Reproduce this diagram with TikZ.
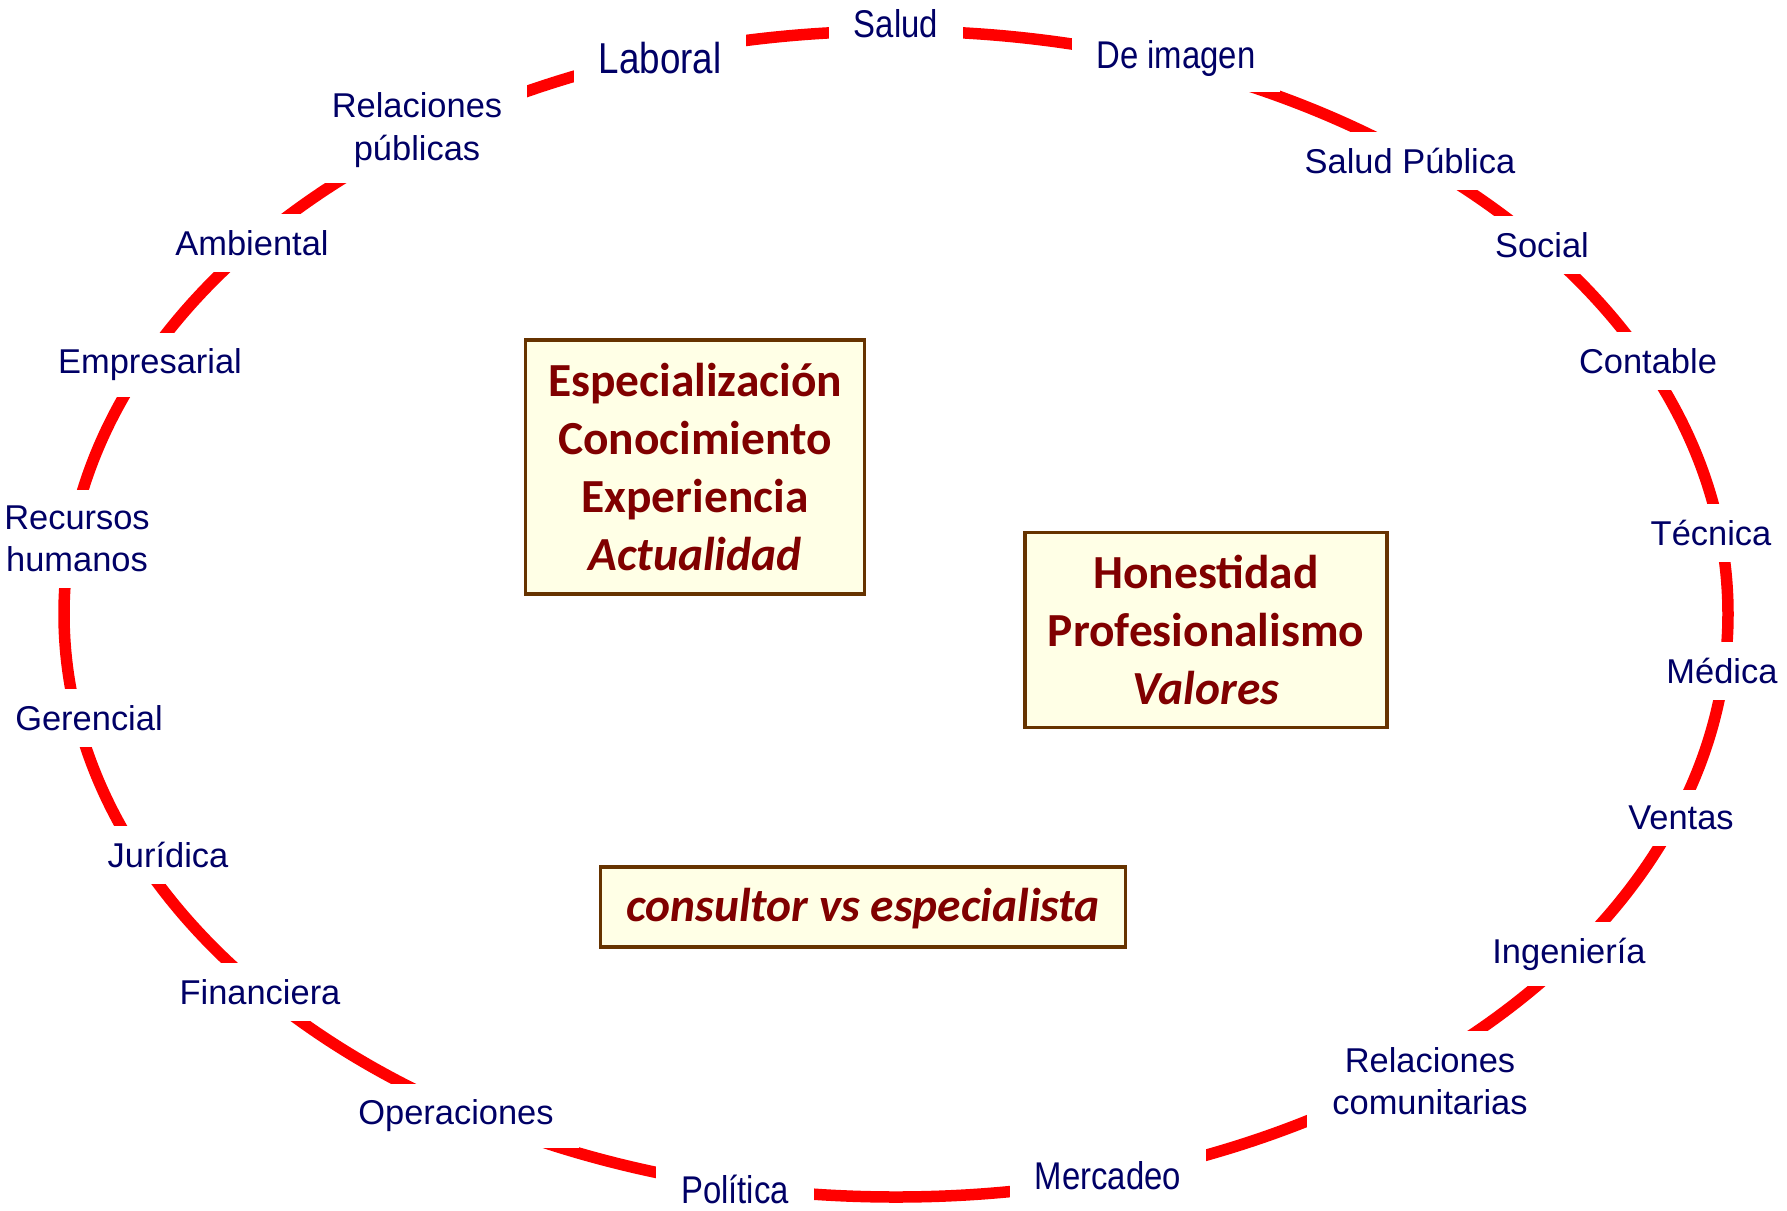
\documentclass[tikz,border=0pt]{standalone}
\usepackage{fontspec}
\setmainfont{Liberation Sans}
\newfontfamily\boxfont{Carlito}
\newfontfamily\narrowfont[FakeStretch=0.85]{Liberation Sans}
\usepackage{xcolor}
\usetikzlibrary{positioning}
\definecolor{ringred}{RGB}{255,0,0}
\definecolor{labelblue}{RGB}{0,0,102}
\definecolor{boxtext}{RGB}{128,0,0}
\definecolor{boxedge}{RGB}{102,51,0}
\definecolor{boxfill}{RGB}{255,255,230}

\begin{document}
\begin{tikzpicture}[
    x=0.1mm, y=-0.1mm,
    ring/.style={draw=ringred, line width=1.15mm},
    area/.style={rectangle, fill=white, text=labelblue, inner xsep=2.5mm, inner ysep=1.6mm, align=center, font=\fontsize{9.8}{12}\selectfont},
    narrow/.style={area, font=\narrowfont\fontsize{11}{13}\selectfont},
    quality/.style={rectangle, draw=boxedge, line width=0.9pt, fill=boxfill, text=boxtext, align=center, font=\boxfont\bfseries\fontsize{13.5}{16.5}\selectfont}
]
    \useasboundingbox (0,0) rectangle (1787,1210);

    % Ring
    \draw[ring] (896,614) ellipse [x radius=832, y radius=583];

    % Top
    \node[narrow] (salud) at (896,24) {Salud};
    \node[narrow, font=\narrowfont\fontsize{12.3}{14}\selectfont] (laboral) at (660,58) {Laboral};
    \node[narrow] (imagen) at (1176,58) {De imagen};
    \node[area] (relpub) at (417,130) {Relaciones\\públicas};
    \node[area] (saludpub) at (1410,161) {Salud Pública};

    % Left side
    \node[area] (ambiental) at (252,243) {Ambiental};
    \node[area] (empresarial) at (150,365) {Empresarial};
    \node[area] (rrhh) at (77,539) {Recursos\\humanos};
    \node[area] (gerencial) at (89,718) {Gerencial};
    \node[area] (juridica) at (168,855) {Jurídica};
    \node[area] (financiera) at (260,992) {Financiera};
    \node[area] (operaciones) at (456,1116) {Operaciones};

    % Right side
    \node[area] (social) at (1542,245) {Social};
    \node[area] (contable) at (1648,361) {Contable};
    \node[area] (tecnica) at (1711,533) {Técnica};
    \node[area] (medica) at (1722,671) {Médica};
    \node[area] (ventas) at (1681,818) {Ventas};
    \node[area] (ingenieria) at (1569,954) {Ingeniería};
    \node[area] (relcom) at (1430,1081) {Relaciones\\comunitarias};

    % Bottom
    \node[narrow] (politica) at (735,1189) {Política};
    \node[narrow] (mercadeo) at (1108,1176) {Mercadeo};

    % Centre boxes
    \node[quality, minimum width=33.9mm, minimum height=25.4mm] (saber) at (695,467)
        {Especialización\\Conocimiento\\Experiencia\\\textit{Actualidad}};
    \node[quality, minimum width=36.2mm, minimum height=19.5mm] (etica) at (1206,630)
        {Honestidad\\Profesionalismo\\\textit{Valores}};
    \node[quality, minimum width=52.5mm, minimum height=8mm, text depth=0.1em] (versus) at (863,907)
        {\itshape consultor vs especialista};

\end{tikzpicture}
\end{document}
